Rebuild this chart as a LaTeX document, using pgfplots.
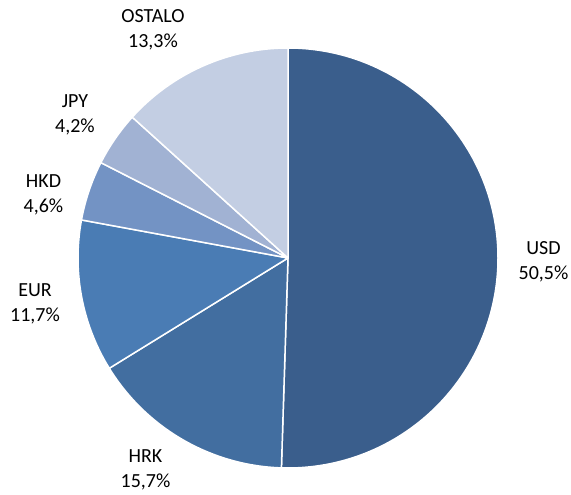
\documentclass[border=0pt]{standalone}
\usepackage{pgfplots}
\pgfplotsset{compat=1.18}
\usepackage{fontspec}
\setmainfont{Carlito}
\definecolor{cUSD}{RGB}{58,94,140}
\definecolor{cHRK}{RGB}{66,110,160}
\definecolor{cEUR}{RGB}{74,124,180}
\definecolor{cHKD}{RGB}{115,147,196}
\definecolor{cJPY}{RGB}{161,178,211}
\definecolor{cOST}{RGB}{195,206,227}
\tikzset{lbl/.style={font=\fontsize{20}{25}\selectfont,align=center,text=black,inner sep=0pt}}
\begin{document}
\begin{tikzpicture}
% shares in percent
\def\vUSD{50.5}\def\vHRK{15.7}\def\vEUR{11.7}\def\vHKD{4.6}\def\vJPY{4.2}\def\vOST{13.3}
\pgfmathsetmacro\aA{90}
\pgfmathsetmacro\aB{\aA-3.6*\vUSD}
\pgfmathsetmacro\aC{\aB-3.6*\vHRK}
\pgfmathsetmacro\aD{\aC-3.6*\vEUR}
\pgfmathsetmacro\aE{\aD-3.6*\vHKD}
\pgfmathsetmacro\aF{\aE-3.6*\vJPY}
\pgfmathsetmacro\aG{\aF-3.6*\vOST}
\begin{axis}[x=1pt,y=1pt,xmin=0,xmax=571,ymin=0,ymax=495,hide axis,clip=false,scale only axis]
\path (axis cs:0,0) rectangle (axis cs:571,495);
\def\sl#1#2#3{\fill[#3,draw=white,line width=1.5pt,line join=round] (axis cs:288,237) -- ++(#1:210pt) arc[start angle=#1,end angle=#2,radius=210pt] -- cycle;}
\sl{\aA}{\aB}{cUSD}
\sl{\aB}{\aC}{cHRK}
\sl{\aC}{\aD}{cEUR}
\sl{\aD}{\aE}{cHKD}
\sl{\aE}{\aF}{cJPY}
\sl{\aF}{\aG}{cOST}
\node[lbl] at (axis cs:543.5,233) {USD\\50,5\%};
\node[lbl] at (axis cs:145.5,25) {HRK\\15,7\%};
\node[lbl] at (axis cs:35,191) {EUR\\11,7\%};
\node[lbl] at (axis cs:43.5,300) {HKD\\4,6\%};
\node[lbl] at (axis cs:75,380) {JPY\\4,2\%};
\node[lbl] at (axis cs:153,465) {OSTALO\\13,3\%};
\end{axis}
\end{tikzpicture}
\end{document}
